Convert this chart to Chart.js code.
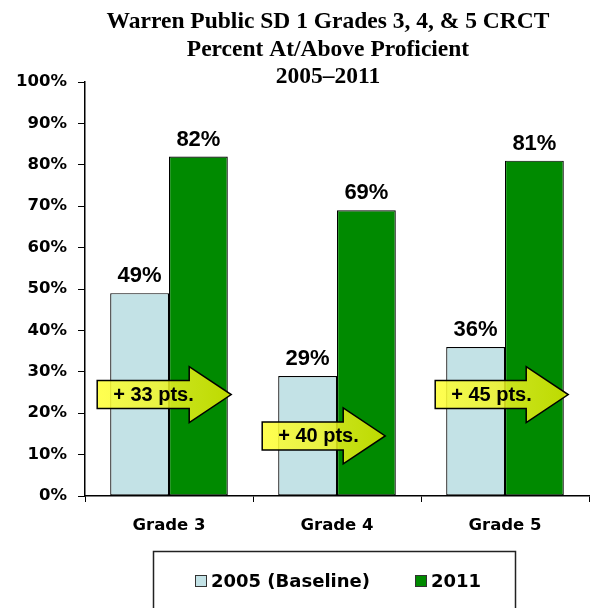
<!DOCTYPE html>
<html><head><meta charset="utf-8">
<script src="https://cdn.jsdelivr.net/npm/chart.js@4/dist/chart.umd.min.js"></script>
<style>html,body{margin:0;padding:0;background:#fff}#wrap{width:594px;height:608px}</style>
</head><body><div id="wrap"><canvas id="c" width="594" height="608"></canvas></div>
<script>
const titleLines = ['Warren Public SD 1 Grades 3, 4, & 5 CRCT', 'Percent At/Above Proficient', '2005\u20132011'];
const categories = ['Grade 3', 'Grade 4', 'Grade 5'];
const seriesNames = ['2005 (Baseline)', '2011'];
const values2005 = [49, 29, 36];
const values2011 = [82, 69, 81];
const gainLabels = ['+ 33 pts.', '+ 40 pts.', '+ 45 pts.'];
const gainLevels = [24.5, 14.5, 24.5];

const COL_LIGHT = '#c3e2e6';
const COL_GREEN = '#008a00';

const arrowGeom = [{dx: -13, len: 134}, {dx: -16, len: 123}, {dx: -11, len: 133}];

const titlePlugin = {
  id: 'pageTitle',
  afterDraw(chart) {
    const ctx = chart.ctx;
    ctx.save();
    ctx.fillStyle = '#000';
    ctx.font = 'bold 23.5px "Liberation Serif", "Times New Roman", serif';
    ctx.textAlign = 'center';
    ctx.textBaseline = 'alphabetic';
    const baselines = [28, 56, 83];
    titleLines.forEach((t, i) => ctx.fillText(t, 328, baselines[i]));
    ctx.restore();
  }
};

const arrowPlugin = {
  id: 'gainArrows',
  afterDatasetsDraw(chart) {
    const ctx = chart.ctx, ys = chart.scales.y;
    const m0 = chart.getDatasetMeta(0);
    ctx.save();
    gainLabels.forEach((txt, i) => {
      const b0 = m0.data[i];
      const left = b0.x - b0.width / 2 + arrowGeom[i].dx;
      const tip = left + arrowGeom[i].len;
      const cy = ys.getPixelForValue(gainLevels[i]);
      const bh = 14, hh = 28, hl = 42;
      ctx.beginPath();
      ctx.moveTo(left, cy - bh);
      ctx.lineTo(tip - hl, cy - bh);
      ctx.lineTo(tip - hl, cy - hh);
      ctx.lineTo(tip, cy);
      ctx.lineTo(tip - hl, cy + hh);
      ctx.lineTo(tip - hl, cy + bh);
      ctx.lineTo(left, cy + bh);
      ctx.closePath();
      const g = ctx.createLinearGradient(left, 0, tip, 0);
      g.addColorStop(0, 'rgba(255,255,50,0.85)');
      g.addColorStop(0.45, 'rgba(240,245,40,0.85)');
      g.addColorStop(1, 'rgba(205,225,0,0.92)');
      ctx.fillStyle = g;
      ctx.fill();
      ctx.lineWidth = 1.5;
      ctx.strokeStyle = '#000';
      ctx.lineJoin = 'miter';
      ctx.stroke();
      ctx.fillStyle = '#000';
      ctx.font = 'bold 20px "Liberation Sans", Arial, sans-serif';
      ctx.textAlign = 'left';
      ctx.textBaseline = 'middle';
      ctx.fillText(txt, left + 16, cy + 1);
    });
    ctx.restore();
  }
};

const labelPlugin = {
  id: 'valueLabels',
  afterDatasetsDraw(chart) {
    const ctx = chart.ctx;
    ctx.save();
    ctx.fillStyle = '#000';
    ctx.font = 'bold 22px "Liberation Sans", Arial, sans-serif';
    ctx.textAlign = 'center';
    ctx.textBaseline = 'alphabetic';
    chart.data.datasets.forEach((ds, di) => {
      chart.getDatasetMeta(di).data.forEach((bar, i) => {
        ctx.fillText(ds.data[i] + '%', bar.x, bar.y - 11);
      });
    });
    ctx.restore();
  }
};

const legendPlugin = {
  id: 'boxLegend',
  afterDraw(chart) {
    const ctx = chart.ctx;
    ctx.save();
    ctx.strokeStyle = '#222';
    ctx.lineWidth = 1.5;
    ctx.strokeRect(153.5, 551.5, 362, 80);
    const xs = [195, 415];
    ctx.font = 'bold 18px "DejaVu Sans", sans-serif';
    ctx.textBaseline = 'middle';
    ctx.textAlign = 'left';
    chart.data.datasets.forEach((ds, i) => {
      ctx.fillStyle = ds.backgroundColor;
      ctx.fillRect(xs[i] + 0.5, 575.5, 11, 11);
      ctx.lineWidth = 1;
      ctx.strokeStyle = '#333';
      ctx.strokeRect(xs[i] + 0.5, 575.5, 11, 11);
      ctx.fillStyle = '#000';
      ctx.fillText(ds.label, xs[i] + 16, 582);
    });
    ctx.restore();
  }
};

new Chart(document.getElementById('c'), {
  type: 'bar',
  data: {
    labels: categories,
    datasets: [
      {label: seriesNames[0], data: values2005, backgroundColor: COL_LIGHT, borderColor: '#000', borderWidth: 1.2, borderSkipped: false},
      {label: seriesNames[1], data: values2011, backgroundColor: COL_GREEN, borderColor: '#000', borderWidth: 1.2, borderSkipped: false}
    ]
  },
  options: {
    responsive: false,
    animation: false,
    devicePixelRatio: 1,
    categoryPercentage: 0.7,
    barPercentage: 1.0,
    layout: {padding: {left: 0, right: 5, top: 82, bottom: 72}},
    plugins: {
      legend: {display: false},
      tooltip: {enabled: false},
      title: {display: false}
    },
    scales: {
      x: {
        grid: {display: true, drawOnChartArea: false, tickLength: 6, color: '#000', lineWidth: 1, offset: true},
        border: {color: '#000', width: 1.5},
        ticks: {color: '#000', padding: 14, font: {family: '"DejaVu Sans", sans-serif', size: 16.5, weight: 'bold'}},
        afterFit(s) { s.height = 40; }
      },
      y: {
        min: 0, max: 100,
        grid: {display: true, drawOnChartArea: false, tickLength: 7, color: '#000', lineWidth: 1},
        border: {color: '#000', width: 1.5},
        ticks: {stepSize: 10, color: '#000', padding: 11, callback: v => v + '%', font: {family: '"DejaVu Sans", sans-serif', size: 16.5, weight: 'bold'}},
        afterFit(s) { s.width = 85; }
      }
    }
  },
  plugins: [arrowPlugin, labelPlugin, legendPlugin, titlePlugin]
});
</script>
</body></html>
